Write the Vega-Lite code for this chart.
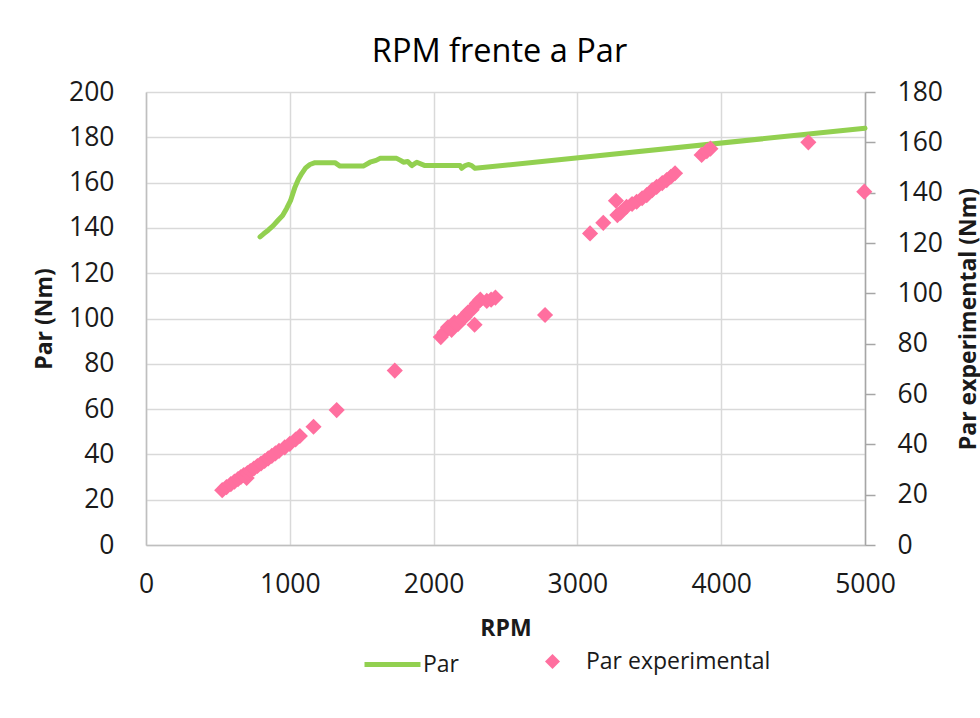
{
  "$schema": "https://vega.github.io/schema/vega-lite/v6.json",
  "width": 719,
  "height": 453,
  "autosize": {"type": "none"},
  "padding": {"left": 146, "top": 92, "right": 115, "bottom": 173},
  "background": "white",
  "title": {
    "text": "RPM frente a Par",
    "font": "Open Sans",
    "fontSize": 32.5,
    "fontWeight": "normal",
    "color": "#000000",
    "offset": 11,
    "dx": -6
  },
  "config": {
    "view": {"stroke": null},
    "font": "Open Sans",
    "axis": {
      "labelFont": "Open Sans",
      "labelFontSize": 26.5,
      "labelColor": "#1a1a1a",
      "titleFont": "Open Sans",
      "titleFontSize": 23,
      "titleFontWeight": "bold",
      "titleColor": "#1a1a1a",
      "gridColor": "#d9d9d9",
      "gridWidth": 1.5,
      "domainColor": "#bfbfbf",
      "domainWidth": 1.5,
      "labelFlush": false,
      "labelOverlap": false,
      "format": "d"
    },
    "legend": {
      "labelFont": "Open Sans",
      "labelFontSize": 23,
      "labelColor": "#1a1a1a",
      "labelLimit": 0,
      "padding": 0
    }
  },
  "datasets": {
    "par": [
      {"rpm": 793, "par": 136},
      {"rpm": 820, "par": 137.5},
      {"rpm": 850, "par": 139},
      {"rpm": 885, "par": 141},
      {"rpm": 920, "par": 143.5},
      {"rpm": 950, "par": 145.5},
      {"rpm": 978, "par": 148.6},
      {"rpm": 1005, "par": 152},
      {"rpm": 1036, "par": 158},
      {"rpm": 1060, "par": 161.5},
      {"rpm": 1083, "par": 164},
      {"rpm": 1110, "par": 166.5},
      {"rpm": 1140, "par": 168},
      {"rpm": 1175, "par": 168.8},
      {"rpm": 1314, "par": 168.8},
      {"rpm": 1349, "par": 167.3},
      {"rpm": 1511, "par": 167.3},
      {"rpm": 1558, "par": 169},
      {"rpm": 1600, "par": 169.8},
      {"rpm": 1627, "par": 170.7},
      {"rpm": 1743, "par": 170.7},
      {"rpm": 1770, "par": 169.8},
      {"rpm": 1790, "par": 169},
      {"rpm": 1820, "par": 169.3},
      {"rpm": 1848, "par": 167.5},
      {"rpm": 1883, "par": 169},
      {"rpm": 1940, "par": 167.5},
      {"rpm": 2184, "par": 167.5},
      {"rpm": 2195, "par": 166.3},
      {"rpm": 2220, "par": 167.5},
      {"rpm": 2241, "par": 168},
      {"rpm": 2265, "par": 167.5},
      {"rpm": 2288, "par": 166.3},
      {"rpm": 5000, "par": 184}
    ],
    "exp": [
      {"rpm": 530, "par_exp": 21.8},
      {"rpm": 560, "par_exp": 23},
      {"rpm": 590, "par_exp": 24.2},
      {"rpm": 615, "par_exp": 25.2},
      {"rpm": 640, "par_exp": 26.2},
      {"rpm": 660, "par_exp": 27},
      {"rpm": 680, "par_exp": 27.8},
      {"rpm": 700, "par_exp": 26.6},
      {"rpm": 705, "par_exp": 28.6},
      {"rpm": 725, "par_exp": 29.4},
      {"rpm": 750, "par_exp": 30.4},
      {"rpm": 775, "par_exp": 31.4},
      {"rpm": 800, "par_exp": 32.4},
      {"rpm": 825, "par_exp": 33.4},
      {"rpm": 850, "par_exp": 34.4},
      {"rpm": 875, "par_exp": 35.4},
      {"rpm": 900, "par_exp": 36.4},
      {"rpm": 925, "par_exp": 37.4},
      {"rpm": 965, "par_exp": 38.8},
      {"rpm": 1000, "par_exp": 40.2},
      {"rpm": 1040, "par_exp": 41.9},
      {"rpm": 1070, "par_exp": 43.3},
      {"rpm": 1165, "par_exp": 47},
      {"rpm": 1326, "par_exp": 53.6},
      {"rpm": 1730, "par_exp": 69.3},
      {"rpm": 2050, "par_exp": 82.6},
      {"rpm": 2075, "par_exp": 84.5},
      {"rpm": 2100, "par_exp": 86.5},
      {"rpm": 2125, "par_exp": 85.5},
      {"rpm": 2145, "par_exp": 88.5},
      {"rpm": 2170, "par_exp": 87.8},
      {"rpm": 2190, "par_exp": 89.5},
      {"rpm": 2215, "par_exp": 90.5},
      {"rpm": 2240, "par_exp": 92.5},
      {"rpm": 2265, "par_exp": 93.5},
      {"rpm": 2285, "par_exp": 87.5},
      {"rpm": 2300, "par_exp": 96},
      {"rpm": 2325, "par_exp": 97.5},
      {"rpm": 2370, "par_exp": 97},
      {"rpm": 2400, "par_exp": 97.5},
      {"rpm": 2430, "par_exp": 98.3},
      {"rpm": 2775, "par_exp": 91.4},
      {"rpm": 3088, "par_exp": 123.8},
      {"rpm": 3180, "par_exp": 128},
      {"rpm": 3268, "par_exp": 136.8},
      {"rpm": 3278, "par_exp": 131.1},
      {"rpm": 3300, "par_exp": 132},
      {"rpm": 3342, "par_exp": 134.4},
      {"rpm": 3380, "par_exp": 135.5},
      {"rpm": 3412, "par_exp": 136.4},
      {"rpm": 3450, "par_exp": 137.8},
      {"rpm": 3482, "par_exp": 139},
      {"rpm": 3520, "par_exp": 141},
      {"rpm": 3551, "par_exp": 142.3},
      {"rpm": 3590, "par_exp": 143.8},
      {"rpm": 3621, "par_exp": 145},
      {"rpm": 3650, "par_exp": 146.3},
      {"rpm": 3679, "par_exp": 147.7},
      {"rpm": 3864, "par_exp": 155},
      {"rpm": 3900, "par_exp": 156.5},
      {"rpm": 3925, "par_exp": 157.5},
      {"rpm": 4606, "par_exp": 160},
      {"rpm": 4995, "par_exp": 140.4}
    ]
  },
  "layer": [
    {
      "data": {"name": "par"},
      "mark": {
        "type": "line",
        "strokeWidth": 5,
        "strokeCap": "round",
        "strokeJoin": "round"
      },
      "encoding": {
        "x": {
          "field": "rpm",
          "type": "quantitative",
          "scale": {"domain": [0, 5000], "nice": false, "zero": false},
          "axis": {
            "values": [0, 1000, 2000, 3000, 4000, 5000],
            "grid": true,
            "ticks": false,
            "labelPadding": 26,
            "title": "RPM",
            "titlePadding": 20
          }
        },
        "y": {
          "field": "par",
          "type": "quantitative",
          "scale": {"domain": [0, 200], "nice": false},
          "axis": {
            "values": [0, 20, 40, 60, 80, 100, 120, 140, 160, 180, 200],
            "grid": true,
            "ticks": false,
            "labelPadding": 32,
            "title": "Par (Nm)",
            "titlePadding": 12
          }
        },
        "color": {
          "datum": "Par",
          "scale": {"range": ["#92d050"]},
          "legend": {
            "orient": "none",
            "legendX": 216,
            "legendY": 542,
            "title": null,
            "symbolType": "stroke",
            "symbolSize": 3136,
            "symbolStrokeWidth": 5,
            "labelOffset": 0
          }
        }
      }
    },
    {
      "data": {"name": "exp"},
      "mark": {
        "type": "point",
        "shape": "diamond",
        "filled": true,
        "size": 260,
        "color": "#ff6f9f",
        "opacity": 1
      },
      "encoding": {
        "x": {"field": "rpm", "type": "quantitative"},
        "y": {
          "field": "par_exp",
          "type": "quantitative",
          "scale": {"domain": [0, 180], "nice": false},
          "axis": {
            "orient": "right",
            "values": [0, 20, 40, 60, 80, 100, 120, 140, 160, 180],
            "grid": false,
            "ticks": true,
            "tickSize": 10,
            "tickWidth": 1.5,
            "tickColor": "#a6a6a6",
            "domainColor": "#a6a6a6",
            "labelPadding": 22,
            "title": "Par experimental (Nm)",
            "titleAngle": 270,
            "titlePadding": 38
          }
        },
        "shape": {
          "datum": "Par experimental",
          "scale": {"range": ["diamond"]},
          "legend": {
            "orient": "none",
            "legendX": 395,
            "legendY": 558,
            "title": null,
            "symbolSize": 225,
            "symbolFillColor": "#ff6f9f",
            "symbolStrokeColor": "#ff6f9f",
            "symbolOpacity": 1,
            "labelOffset": 22
          }
        }
      }
    }
  ],
  "resolve": {"scale": {"y": "independent"}}
}
